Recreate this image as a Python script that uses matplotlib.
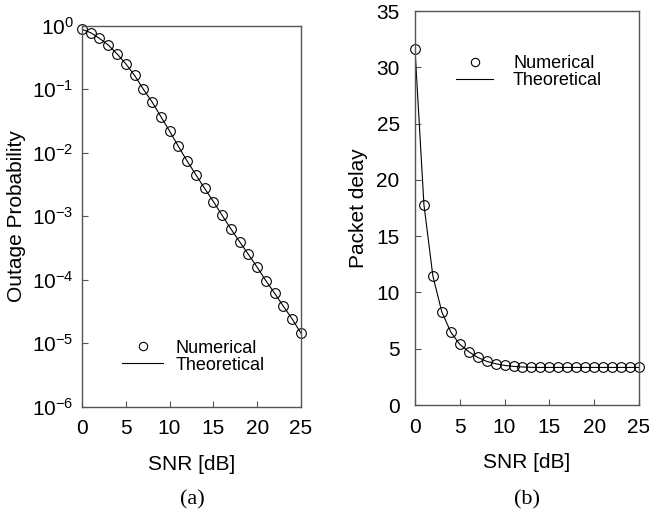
import numpy as np
import matplotlib
matplotlib.use("Agg")
import matplotlib.pyplot as plt
from matplotlib.lines import Line2D

plt.rcParams['font.family'] = ['Liberation Sans', 'DejaVu Sans']
plt.rcParams['mathtext.fontset'] = 'custom'
plt.rcParams['mathtext.rm'] = 'Liberation Sans'
plt.rcParams['mathtext.it'] = 'Liberation Sans'

snr = list(range(26))

# outage probability (panel a)
outage = [0.875, 0.774, 0.63, 0.495, 0.36, 0.251, 0.165, 0.1, 0.063, 0.037,
          0.0219, 0.0126, 0.0074, 0.0045, 0.00274, 0.0017, 0.00103, 6.3e-4,
          3.95e-4, 2.5e-4, 1.57e-4, 9.6e-5, 6.1e-5, 3.8e-5, 2.4e-5, 1.44e-5]

# packet delay (panel b)
delay = [31.65, 17.8, 11.46, 8.26, 6.48, 5.39, 4.74, 4.23, 3.88, 3.67,
         3.52, 3.43, 3.38, 3.35, 3.34, 3.34, 3.34, 3.34, 3.34, 3.34,
         3.34, 3.34, 3.34, 3.34, 3.34, 3.34]
# theoretical curve starts off the top of the axis at SNR 0
theo_snr = [0] + snr
theo_delay = [40.0] + delay

ytick_vals = [1e0, 1e-1, 1e-2, 1e-3, 1e-4, 1e-5, 1e-6]
ytick_txt = [r'$\mathregular{10^{0}}$', r'$\mathregular{10^{-1}}$',
             r'$\mathregular{10^{-2}}$', r'$\mathregular{10^{-3}}$',
             r'$\mathregular{10^{-4}}$', r'$\mathregular{10^{-5}}$',
             r'$\mathregular{10^{-6}}$']

spine_col = '#555555'
fig = plt.figure(figsize=(6.49, 5.17), dpi=100)
ax1 = fig.add_axes([0.1263, 0.2134, 0.3374, 0.737])
ax2 = fig.add_axes([0.6394, 0.2166, 0.3451, 0.762])

mk = dict(marker='o', ms=7, mfc='none', mec='black', mew=0.8, ls='none')


def style(ax, ypad):
    for s in ax.spines.values():
        s.set_color(spine_col)
        s.set_linewidth(1.0)
    ax.tick_params(direction='in', length=4, width=0.8, color=spine_col,
                   labelsize=15, top=False, right=False)
    ax.tick_params(axis='x', pad=9)
    ax.tick_params(axis='y', pad=ypad)
    ax.tick_params(which='minor', left=False, bottom=False)


# (a)
ax1.plot(snr, outage, color='black', lw=0.8)
ax1.plot(snr, outage, clip_on=False, **mk)
ax1.set_yscale('log')
ax1.set_ylim(1e-6, 1)
ax1.set_xlim(0, 25)
ax1.set_yticks(ytick_vals)
ax1.set_yticklabels(ytick_txt)
ax1.set_xticks([0, 5, 10, 15, 20, 25])
style(ax1, 6)
ax1.set_xlabel('SNR [dB]', fontsize=15, labelpad=12)
ax1.set_ylabel('Outage Probability', fontsize=15, labelpad=4)

# (b)
ax2.plot(theo_snr, theo_delay, color='black', lw=0.8)
ax2.plot(snr, delay, clip_on=False, **mk)
ax2.set_ylim(0, 35)
ax2.set_xlim(0, 25)
ax2.set_yticks(range(0, 36, 5))
ax2.set_xticks([0, 5, 10, 15, 20, 25])
style(ax2, 11)
ax2.set_xlabel('SNR [dB]', fontsize=15, labelpad=12)
ax2.set_ylabel('Packet delay', fontsize=15, labelpad=6)

handles = [Line2D([], [], marker='o', ms=6, mfc='none', mec='black', mew=0.8, ls='none'),
           Line2D([], [], color='black', lw=0.8)]
labels = ['Numerical', 'Theoretical']
ax1.legend(handles, labels, loc='upper left', bbox_to_anchor=(0.151, 0.195),
           frameon=False, fontsize=13, handlelength=2.27, handletextpad=0.66,
           labelspacing=0.0, borderaxespad=0)
ax2.legend(handles, labels, loc='upper left', bbox_to_anchor=(0.152, 0.907),
           frameon=False, fontsize=13, handlelength=2.05, handletextpad=1.1,
           labelspacing=0.0, borderaxespad=0)

fig.text(192 / 649, 1 - 500 / 517, '(a)', ha='center', va='center',
         family='Liberation Serif', fontsize=16)
fig.text(527 / 649, 1 - 500 / 517, '(b)', ha='center', va='center',
         family='Liberation Serif', fontsize=16)

fig.savefig('out.png', dpi=100)
